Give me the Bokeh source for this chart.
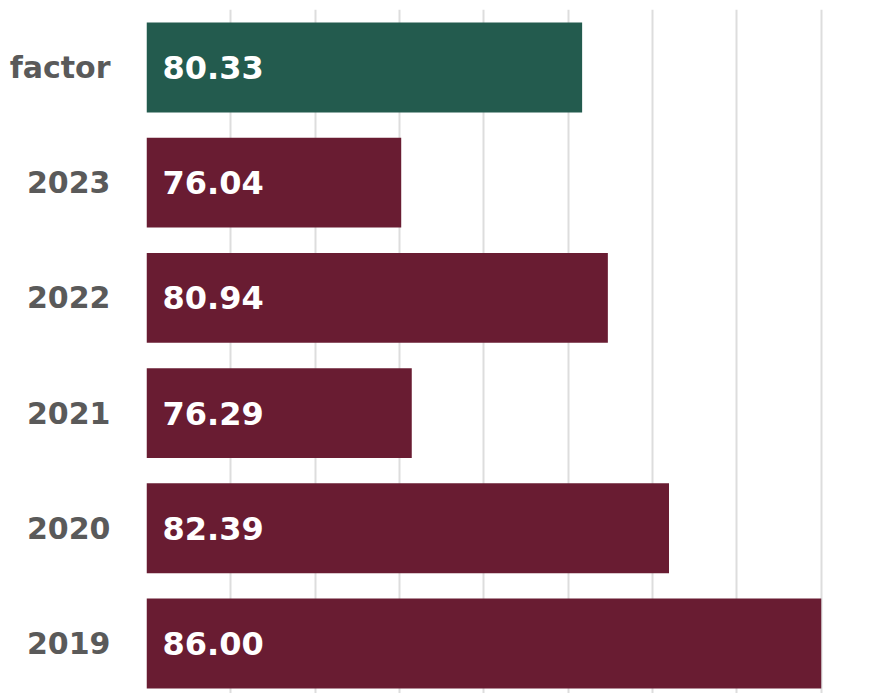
from bokeh.plotting import figure
from bokeh.models import ColumnDataSource, FixedTicker, SingleIntervalTicker, Range1d
from bokeh.core.properties import value
from bokeh.embed import file_html
from bokeh.resources import INLINE

categories = ["factor", "2023", "2022", "2021", "2020", "2019"]
values = [80.33, 76.04, 80.94, 76.29, 82.39, 86.00]
colors = ["#235B4E", "#691C32", "#691C32", "#691C32", "#691C32", "#691C32"]
x_start = 70

n = len(categories)
ypos = [n - 1 - i for i in range(n)]
labels = ["%.2f" % v for v in values]

src = ColumnDataSource(dict(y=ypos, v=values, c=colors, lab=labels, x0=[x_start] * n))

p = figure(width=884, height=693, output_backend="svg", toolbar_location=None,
           x_range=Range1d(x_start, 87.5), y_range=Range1d(-0.434, n - 1 + 0.503),
           min_border_left=146, min_border_right=0, min_border_top=9, min_border_bottom=0)

p.hbar(y="y", left="x0", right="v", height=0.78, fill_color="c", line_color=None, source=src)
p.text(x="x0", y="y", text="lab", x_offset=16, text_align="left", text_baseline="middle",
       text_color="white", text_font=value("DejaVu Sans"), text_font_style="bold",
       text_font_size="32px", source=src)

p.xaxis.visible = False
p.xgrid.ticker = SingleIntervalTicker(interval=2)
p.xgrid.grid_line_color = "#dddddd"
p.xgrid.grid_line_width = 2
p.ygrid.grid_line_color = None

p.yaxis.ticker = FixedTicker(ticks=ypos)
p.yaxis.major_label_overrides = {y: c for y, c in zip(ypos, categories)}
p.yaxis.major_tick_line_color = None
p.yaxis.minor_tick_line_color = None
p.yaxis.axis_line_color = None
p.yaxis.major_label_standoff = 30
p.yaxis.major_label_text_font = "DejaVu Sans"
p.yaxis.major_label_text_font_style = "bold"
p.yaxis.major_label_text_font_size = "30px"
p.yaxis.major_label_text_color = "#5a5a5a"
p.outline_line_color = None
p.background_fill_color = "white"
p.border_fill_color = "white"

open("out.html", "w").write(file_html(p, INLINE))
